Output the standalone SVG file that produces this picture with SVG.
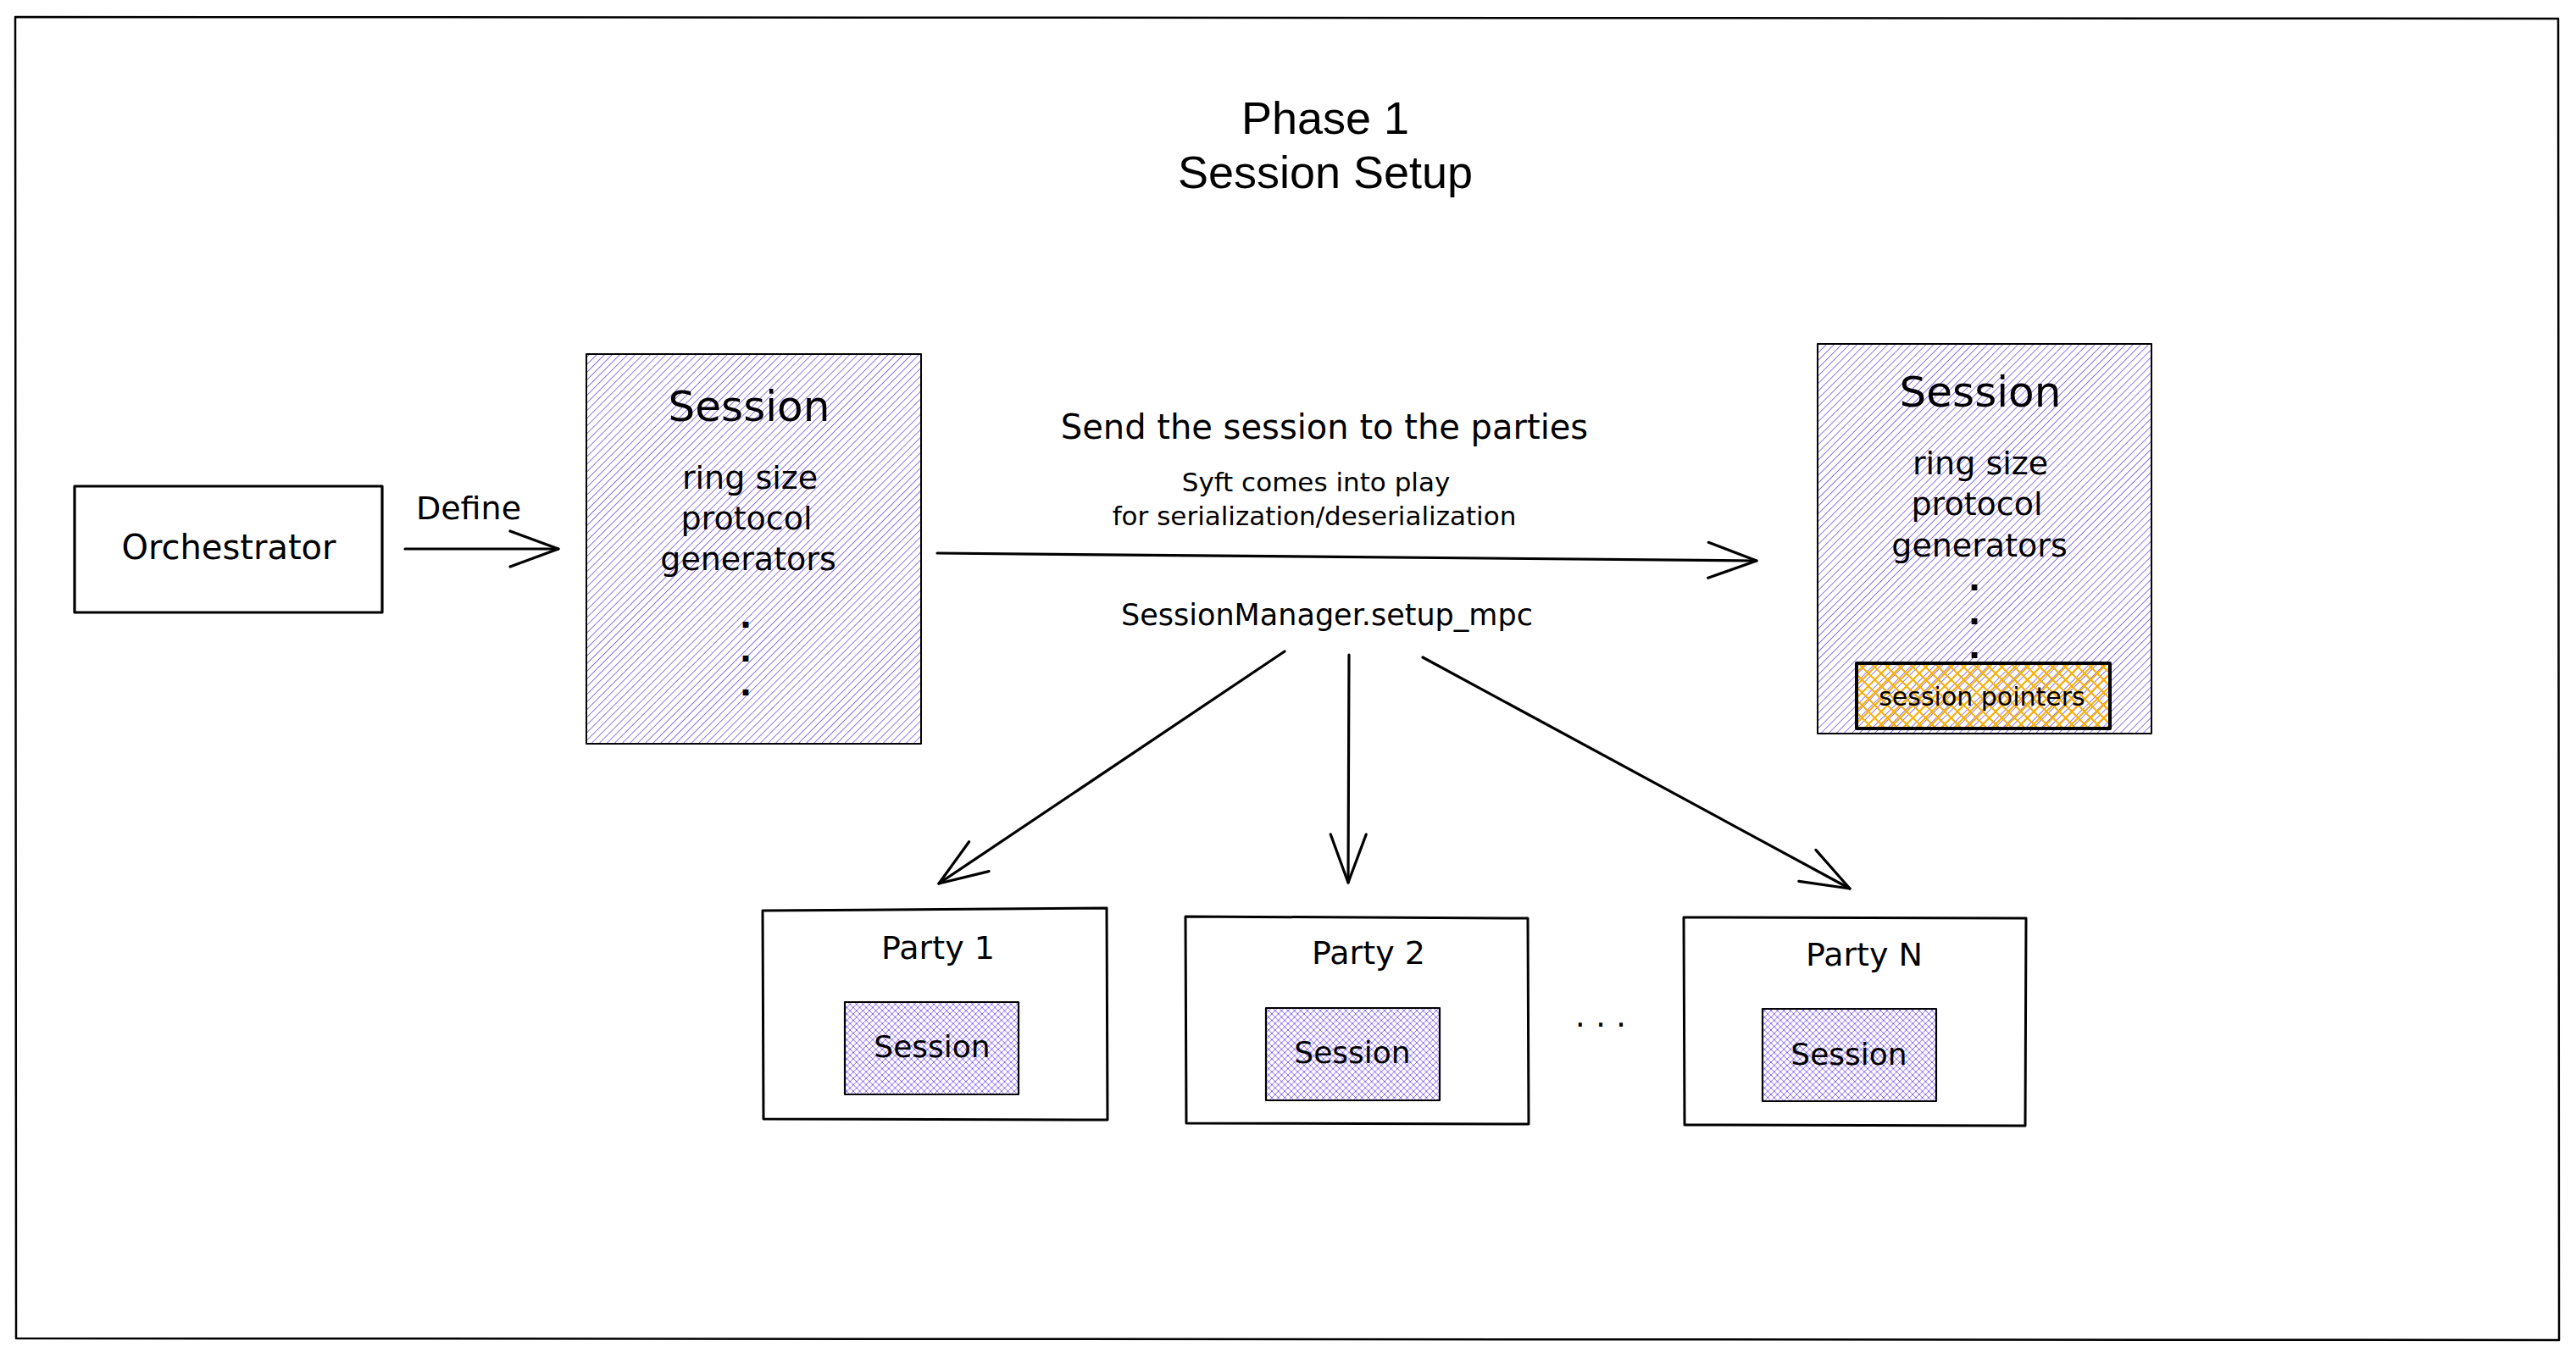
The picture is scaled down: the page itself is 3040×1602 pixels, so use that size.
<svg xmlns="http://www.w3.org/2000/svg" width="3040" height="1602" viewBox="0 0 3040 1602">
  <defs>
    <style>
      .hand { font-family: "DejaVu Sans", "Liberation Sans", sans-serif; fill: #000; text-anchor: middle; }
      .title { font-family: "Liberation Sans", Arial, sans-serif; fill: #000; text-anchor: middle; font-size: 54px; }
      .box { fill: none; stroke: #000; stroke-linejoin: round; stroke-linecap: round; }
      .conn { fill: none; stroke: #000; stroke-width: 3.2; stroke-linecap: round; marker-end: url(#ah); }
      .dot { font-family: "DejaVu Sans", sans-serif; font-weight: bold; font-size: 38px; fill: #000; text-anchor: middle; }
    </style>
    <pattern id="hatch" patternUnits="userSpaceOnUse" width="6.4" height="6.4" patternTransform="rotate(45)">
      <line x1="0" y1="0" x2="0" y2="6.4" stroke="#7048e8" stroke-width="1.5"/>
    </pattern>
    <pattern id="cross" patternUnits="userSpaceOnUse" width="7.6" height="7.6">
      <path d="M0,0 L7.6,7.6 M0,7.6 L7.6,0" stroke="#7950f2" stroke-width="0.9" fill="none"/>
    </pattern>
    <pattern id="crossOrange" patternUnits="userSpaceOnUse" width="15" height="15">
      <path d="M0,0 L15,15 M0,15 L15,0" stroke="#fab005" stroke-width="2" fill="none"/>
    </pattern>
    <marker id="ah" markerUnits="userSpaceOnUse" markerWidth="80" markerHeight="60" viewBox="-70 -30 80 60" refX="0" refY="0" orient="auto" overflow="visible">
      <path d="M-57,-21 L0,0 L-57,21" fill="none" stroke="#000" stroke-width="3.2" stroke-linecap="round" stroke-linejoin="round"/>
    </marker>
  </defs>

  <rect x="0" y="0" width="3040" height="1602" fill="#fff"/>

  <g id="frame">
    <path class="box" d="M18,20 L3019,22 L3020,1582 L19,1580 Z" stroke-width="2.5"/>
  </g>

  <g id="title">
    <text class="title" x="1564" y="158">Phase 1</text>
    <text class="title" x="1564" y="222">Session Setup</text>
  </g>

  <g id="orchestrator">
    <rect class="box" x="88" y="574" width="363" height="149" stroke-width="3.2"/>
    <text class="hand" x="270" y="660" font-size="40">Orchestrator</text>
  </g>

  <g id="session-left">
    <rect x="692" y="418" width="395" height="460" fill="url(#hatch)"/>
    <rect class="box" x="692" y="418" width="395" height="460" stroke-width="2"/>
    <text class="hand" x="884" y="497" font-size="50">Session</text>
    <text class="hand" x="885" y="577" font-size="38">ring size</text>
    <text class="hand" x="881" y="625" font-size="38">protocol</text>
    <text class="hand" x="883" y="673" font-size="38">generators</text>
    <text class="dot" x="880" y="741">.<tspan x="880" dy="40">.</tspan><tspan x="880" dy="40">.</tspan></text>
  </g>

  <g id="session-right">
    <rect x="2145" y="406" width="394" height="460" fill="url(#hatch)"/>
    <rect class="box" x="2145" y="406" width="394" height="460" stroke-width="2"/>
    <text class="hand" x="2337" y="480" font-size="50">Session</text>
    <text class="hand" x="2337" y="560" font-size="38">ring size</text>
    <text class="hand" x="2333" y="608" font-size="38">protocol</text>
    <text class="hand" x="2336" y="657" font-size="38">generators</text>
    <text class="dot" x="2330" y="697">.<tspan x="2330" dy="40">.</tspan><tspan x="2330" dy="40">.</tspan></text>
  </g>

  <g id="session-pointers">
    <rect x="2191" y="783" width="299" height="77" fill="url(#crossOrange)"/>
    <rect class="box" x="2191" y="783" width="299" height="77" stroke-width="4"/>
    <text class="hand" x="2339" y="833" font-size="30">session pointers</text>
  </g>

  <g id="send-labels">
    <text class="hand" x="1563" y="518" font-size="40">Send the session to the parties</text>
    <text class="hand" x="1553" y="580" font-size="31">Syft comes into play</text>
    <text class="hand" x="1551" y="620" font-size="31">for serialization/deserialization</text>
    <text class="hand" x="1566" y="738" font-size="35">SessionManager.setup_mpc</text>
  </g>

  <g id="define-label">
    <text class="hand" x="553" y="613" font-size="38">Define</text>
  </g>

  <g id="party-1">
    <path class="box" d="M900,1075 L1306,1072 L1307,1322 L901,1321 Z" stroke-width="3"/>
    <text class="hand" x="1107" y="1132" font-size="38">Party 1</text>
    <rect x="997" y="1183" width="205" height="109" fill="url(#cross)"/>
    <rect class="box" x="997" y="1183" width="205" height="109" stroke-width="2.2"/>
    <text class="hand" x="1100" y="1248" font-size="36">Session</text>
  </g>

  <g id="party-2">
    <path class="box" d="M1399,1082 L1803,1084 L1804,1327 L1400,1326 Z" stroke-width="3"/>
    <text class="hand" x="1615" y="1138" font-size="38">Party 2</text>
    <rect x="1494" y="1190" width="205" height="109" fill="url(#cross)"/>
    <rect class="box" x="1494" y="1190" width="205" height="109" stroke-width="2.2"/>
    <text class="hand" x="1596" y="1255" font-size="36">Session</text>
  </g>

  <g id="ellipsis">
    <text class="hand" x="1889" y="1212" font-size="38">. . .</text>
  </g>

  <g id="party-n">
    <path class="box" d="M1987,1083 L2391,1084 L2390,1329 L1988,1328 Z" stroke-width="3"/>
    <text class="hand" x="2200" y="1140" font-size="38">Party N</text>
    <rect x="2080" y="1191" width="205" height="109" fill="url(#cross)"/>
    <rect class="box" x="2080" y="1191" width="205" height="109" stroke-width="2.2"/>
    <text class="hand" x="2182" y="1257" font-size="36">Session</text>
  </g>

  <g id="connectors">
    <path class="conn" d="M478,648 L659,648"/>
    <path class="conn" d="M1106,653 Q1590,656 2073,662"/>
    <path class="conn" d="M1516,769 L1108,1043"/>
    <path class="conn" d="M1592,773 L1591,1042"/>
    <path class="conn" d="M1679,776 L2183,1049"/>
  </g>
</svg>
